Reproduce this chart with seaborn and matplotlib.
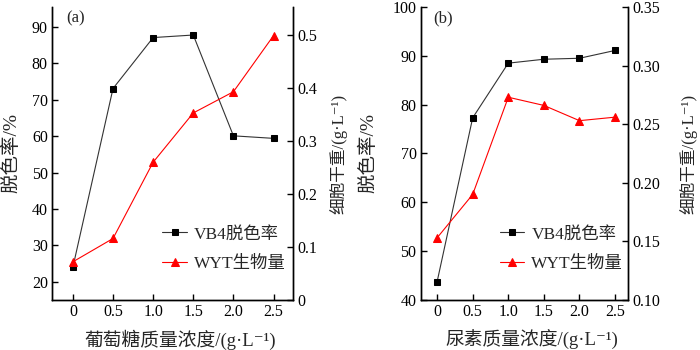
import matplotlib
matplotlib.use('Agg')
import matplotlib.pyplot as plt
import seaborn as sns
import pandas as pd

conc = [0, 0.5, 1.0, 1.5, 2.0, 2.5]
conc_labels = ['0', '0.5', '1.0', '1.5', '2.0', '2.5']

# (a) glucose
vb4_a = [24.0, 73.1, 87.1, 87.8, 60.1, 59.4]
wyt_a = [0.072, 0.116, 0.260, 0.353, 0.393, 0.499]

# (b) urea
vb4_b = [43.7, 77.3, 88.5, 89.3, 89.5, 91.1]
wyt_b = [0.153, 0.190, 0.273, 0.266, 0.253, 0.256]

sns.set_style('ticks')
plt.rcParams['font.family'] = ['Liberation Serif', 'Noto Sans CJK SC', 'DejaVu Sans']
plt.rcParams['font.size'] = 11
plt.rcParams['axes.unicode_minus'] = False

fig = plt.figure(figsize=(7, 3.5), dpi=100)
ax_a = fig.add_axes([0.0743, 0.143, 0.344, 0.837])
ax_b = fig.add_axes([0.601, 0.143, 0.296, 0.837])


def panel(ax, vb4, wyt, ylim, y2lim, yticks, y2ticks, y2fmt, xlim, xlabel, tag,
          leg_x, lab_pos):
    df = pd.DataFrame({'c': conc, 'vb4': vb4, 'wyt': wyt})
    ax2 = ax.twinx()
    sns.lineplot(data=df, x='c', y='vb4', ax=ax, color='#333333', lw=0.8,
                 marker='s', markersize=5, markeredgecolor='black',
                 markerfacecolor='black', label='VB4脱色率', legend=False)
    sns.lineplot(data=df, x='c', y='wyt', ax=ax2, color='red', lw=0.8,
                 marker='^', markersize=6, markeredgecolor='red',
                 markerfacecolor='red', label='WYT生物量', legend=False)
    ax.set_xlim(*xlim)
    ax.set_ylim(*ylim)
    ax2.set_ylim(*y2lim)
    ax.set_xticks(conc)
    ax.set_xticklabels(conc_labels)
    ax.set_yticks(yticks)
    ax2.set_yticks(y2ticks)
    ax2.set_yticklabels([y2fmt.format(v) if v != 0 else '0' for v in y2ticks])
    for a in (ax, ax2):
        a.spines['top'].set_visible(False)
        for s in a.spines.values():
            s.set_linewidth(1.0)
            s.set_color('black')
        a.tick_params(direction='in', length=4, width=1.0, labelsize=11.5,
                      colors='black', pad=3)
    ax.set_xlabel(xlabel, fontsize=13.5)
    ax.set_ylabel('脱色率/%', fontsize=14)
    ax2.set_ylabel('细胞干重/(g·L⁻¹)', fontsize=12, rotation=90)
    ax.xaxis.set_label_coords(lab_pos[0], -0.102)
    ax.yaxis.set_label_coords(lab_pos[1], 0.5)
    ax2.yaxis.set_label_coords(lab_pos[2], 0.5)
    ax.text(0.06, 0.99, tag, transform=ax.transAxes, fontsize=12,
            va='top', ha='left')
    h1, l1 = ax.get_legend_handles_labels()
    h2, l2 = ax2.get_legend_handles_labels()
    ax2.legend(h1 + h2, l1 + l2, loc='upper left',
               bbox_to_anchor=(leg_x, 0.275), frameon=False, fontsize=12.5,
               handlelength=1.4, handletextpad=0.4, labelspacing=0.75,
               borderaxespad=0)
    return ax2


panel(ax_a, vb4_a, wyt_a, (15, 95.5), (0, 0.553), [20, 30, 40, 50, 60, 70, 80, 90],
      [0, 0.1, 0.2, 0.3, 0.4, 0.5], '{:.1f}', (-0.26, 2.74),
      '葡萄糖质量浓度/(g·L⁻¹)', '(a)', 0.43, (0.531, -0.13, 1.154))
panel(ax_b, vb4_b, wyt_b, (40, 100), (0.10, 0.35), [40, 50, 60, 70, 80, 90, 100],
      [0.10, 0.15, 0.20, 0.25, 0.30, 0.35], '{:.2f}', (-0.23, 2.68),
      '尿素质量浓度/(g·L⁻¹)', '(b)', 0.35, (0.537, -0.21, 1.251))

fig.savefig('out.png', dpi=100)
